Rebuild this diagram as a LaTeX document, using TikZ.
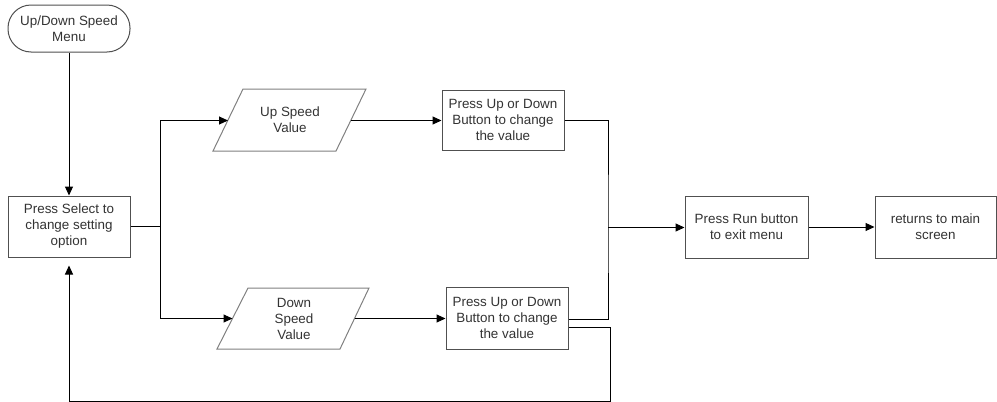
\documentclass[tikz,border=0pt]{standalone}
\usepackage{fontspec}
\setmainfont{Liberation Sans}
\usetikzlibrary{arrows.meta,calc}
\definecolor{boxc}{HTML}{505050}
\definecolor{parc}{HTML}{808080}
\definecolor{txtc}{HTML}{333333}
\tikzset{
  boxnode/.style={draw=boxc, line width=1pt, fill=white, inner sep=0pt, align=center,
    text=txtc, font=\fontsize{13.4}{16}\selectfont},
  txtnode/.style={inner sep=0pt, align=center, text=txtc, font=\fontsize{13.4}{16}\selectfont},
  parshape/.style={draw=parc, line width=1pt},
  conn/.style={draw=black, line width=1pt},
  arr/.style={conn, -{Triangle[length=9pt,width=8pt]}},
}
\begin{document}
\begin{tikzpicture}[x=1pt,y=-1pt]
\useasboundingbox (0,0) rectangle (997,402);
% nodes
\node[boxnode, minimum width=122pt, minimum height=47pt, rounded corners=23pt] (term) at (69,28.5) {Up/Down Speed\\Menu};
\node[boxnode, minimum width=122pt, minimum height=61pt] (sel) at (69,226.5) {Press Select to\\change setting\\option};
\node[boxnode, minimum width=122pt, minimum height=60pt] (upb) at (503,120) {Press Up or Down\\Button to change\\the value};
\node[boxnode, minimum width=122pt, minimum height=62pt] (dnb) at (507,318) {Press Up or Down\\Button to change\\the value};
\node[boxnode, minimum width=123pt, minimum height=62pt] (run) at (746.5,227) {Press Run button\\to exit menu};
\node[boxnode, minimum width=121pt, minimum height=62pt] (ret) at (935.5,227) {returns to main\\screen};
% parallelograms
\draw[parshape] (243,89) -- (366,89) -- (336,151) -- (213,151) -- cycle;
\node[txtnode] (upv) at (290,120) {Up Speed\\Value};
\coordinate (upvL) at (228,120.5);
\coordinate (upvR) at (351,120.5);
\draw[parshape] (248,288) -- (369,288) -- (340,349) -- (217,349) -- cycle;
\node[txtnode] (dnv) at (294,318.5) {Down\\Speed\\Value};
\coordinate (dnvL) at (232.5,318.5);
\coordinate (dnvR) at (354.5,318.5);
% helper coordinates
\coordinate (split) at (160,226.5);
\coordinate (join) at (608,227.5);
\coordinate (dnbo1) at (dnb.east |- 0,319);
\coordinate (dnbo2) at (dnb.east |- 0,327);
\coordinate (loopR) at (610,401.8);
% connectors
\draw[arr] (term.south) -- (sel.north);
\draw[conn] (sel.east |- split) -- (split);
\draw[arr] (split) |- (upvL);
\draw[arr] (split) |- (dnvL);
\draw[arr] (upvR) -- (upb.west |- upvR);
\draw[arr] (dnvR) -- (dnb.west |- dnvR);
\draw[conn] (upb.east |- 0,120.5) -| (join) |- (dnbo1);
\draw[arr] (join) -- (run.west |- join);
\draw[arr] (run.east) -- (ret.west);
\draw[conn] (dnbo2) -| (loopR) -- (sel.south |- loopR);
\draw[arr, shorten >=8pt] (sel.south |- loopR) -- (sel.south);
\end{tikzpicture}
\end{document}
